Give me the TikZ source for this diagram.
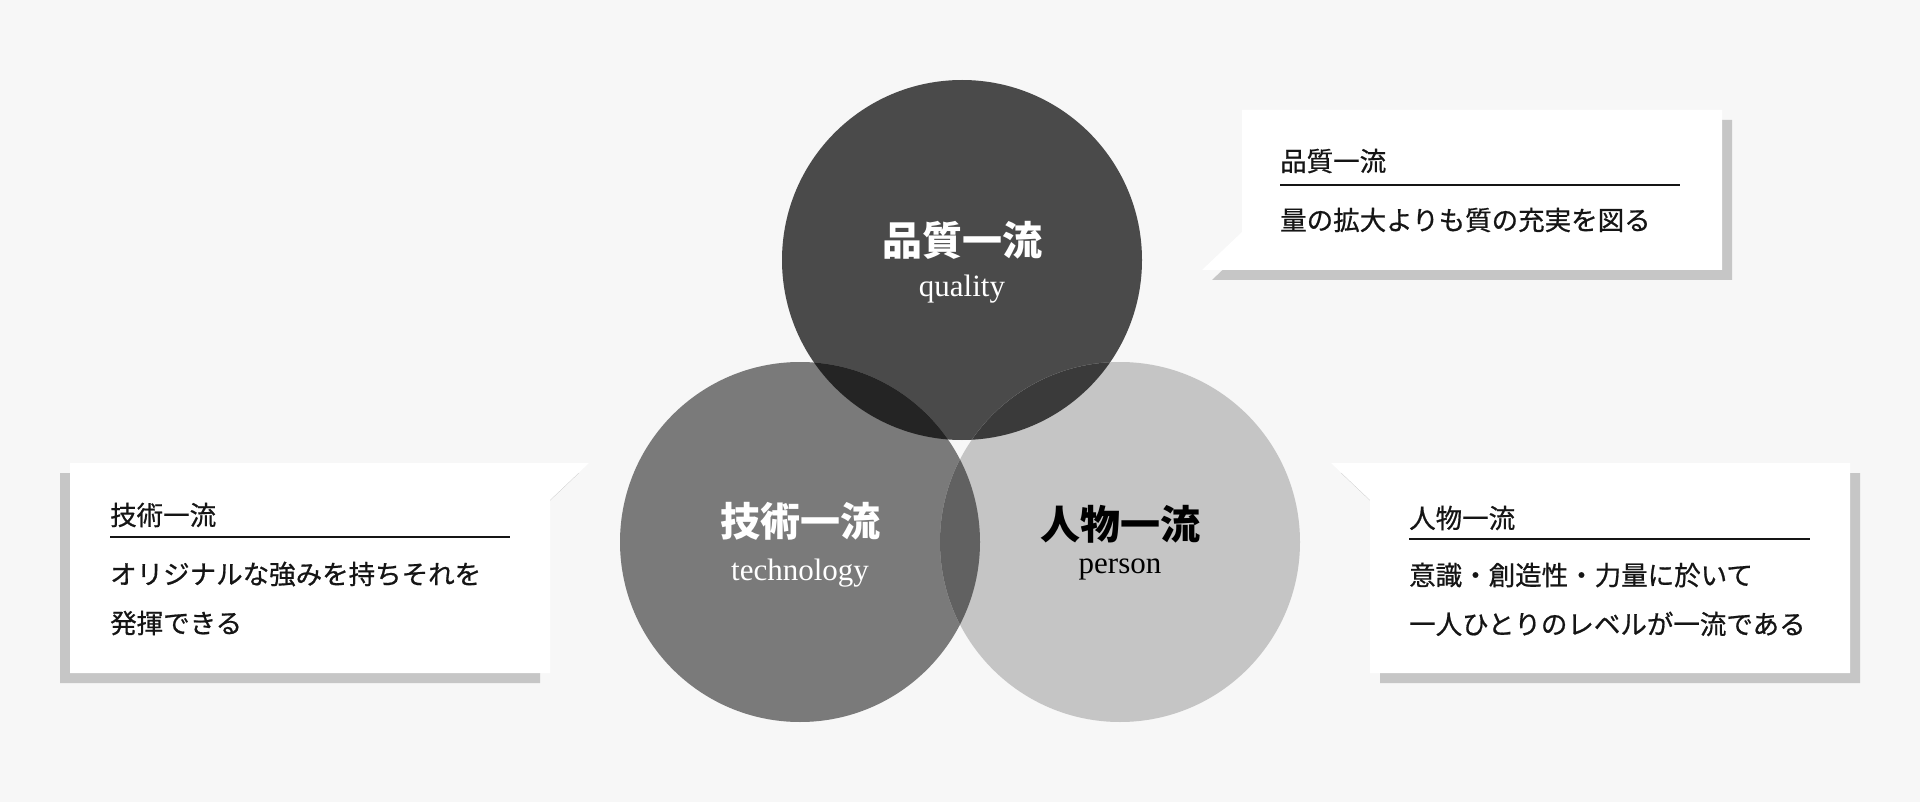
\documentclass[tikz,border=0pt]{standalone}
\usepackage{fontspec}
\newfontfamily\jp{Noto Sans CJK JP}
\newfontfamily\jpm[FakeBold=0.7]{Noto Sans CJK JP}
\newfontfamily\en{Liberation Serif}
\definecolor{bg}{HTML}{F7F7F7}
\definecolor{cq}{HTML}{4A4A4A}
\definecolor{ct}{HTML}{7A7A7A}
\definecolor{cp}{HTML}{C5C5C5}
\definecolor{oqt}{HTML}{242424}
\definecolor{oqp}{HTML}{3A3A3A}
\definecolor{otp}{HTML}{616161}
\definecolor{shadow}{HTML}{C6C6C6}
\definecolor{ink}{HTML}{151515}
\tikzset{
  ctitle/.style={inner sep=0pt, font=\jp\bfseries\fontsize{40}{40}\selectfont},
  cen/.style={inner sep=0pt, anchor=base, font=\en\fontsize{31}{31}\selectfont},
  btitle/.style={inner sep=0pt, anchor=west, text=ink, font=\jpm\fontsize{26.5}{26.5}\selectfont},
  bbody/.style={inner sep=0pt, anchor=west, text=ink, align=left, font=\jpm\fontsize{26.5}{49}\selectfont},
  rule/.style={draw=ink, line width=2pt},
  card/.style={fill=white},
  cardshadow/.style={fill=shadow},
}
\begin{document}
\begin{tikzpicture}[x=1pt,y=-1pt]
\fill[bg] (0,0) rectangle (1920,802);
\useasboundingbox (0,0) rectangle (1920,802);

% circles
\coordinate (Q) at (962,260);
\coordinate (T) at (800,542);
\coordinate (P) at (1120,542);
\fill[cq] (Q) circle[radius=180pt];
\fill[ct] (T) circle[radius=180pt];
\fill[cp] (P) circle[radius=180pt];
\begin{scope}
  \clip (Q) circle[radius=180pt];
  \fill[oqt] (T) circle[radius=180pt];
  \fill[oqp] (P) circle[radius=180pt];
\end{scope}
\begin{scope}
  \clip (T) circle[radius=180pt];
  \fill[otp] (P) circle[radius=180pt];
\end{scope}

% circle labels
\node[ctitle, text=white] (tq) at (962,240) {品質一流};
\node[cen, text=white] (eq) at (962,297) {quality};
\node[ctitle, text=white] (tt) at (800,521) {技術一流};
\node[cen, text=white] (et) at (800,580) {technology};
\node[ctitle, text=black] (tp) at (1120,524) {人物一流};
\node[cen, text=black] (ep) at (1120,573) {person};

% top-right card
\fill[cardshadow] (1252,120) -- (1732,120) -- (1732,280) -- (1212,280) -- (1252,242) -- cycle;
\fill[card] (1242,110) -- (1722,110) -- (1722,270) -- (1202,270) -- (1242,232) -- cycle;
\node[btitle] (h1) at (1280,161) {品質一流};
\coordinate (u1a) at (1280,185);
\coordinate (u1b) at (1680,185);
\draw[rule] (u1a) -- (u1b);
\node[bbody] (b1) at (1280,220) {量の拡大よりも質の充実を図る};

% left card
\fill[cardshadow] (60,473) -- (579,473) -- (540,510) -- (540,683) -- (60,683) -- cycle;
\fill[card] (70,463) -- (589,463) -- (550,500) -- (550,673) -- (70,673) -- cycle;
\node[btitle] (h2) at (110,515) {技術一流};
\coordinate (u2a) at (110,537);
\coordinate (u2b) at (510,537);
\draw[rule] (u2a) -- (u2b);
\node[bbody] (b2) at (110,598.5) {オリジナルな強みを持ちそれを\\発揮できる};

% right card
\fill[cardshadow] (1341,473) -- (1860,473) -- (1860,683) -- (1380,683) -- (1380,510) -- cycle;
\fill[card] (1331,463) -- (1850,463) -- (1850,673) -- (1370,673) -- (1370,500) -- cycle;
\node[btitle] (h3) at (1409,518) {人物一流};
\coordinate (u3a) at (1409,539);
\coordinate (u3b) at (1810,539);
\draw[rule] (u3a) -- (u3b);
\node[bbody] (b3) at (1409,599.5) {意識・創造性・力量に於いて\\一人ひとりのレベルが一流である};
\end{tikzpicture}
\end{document}
